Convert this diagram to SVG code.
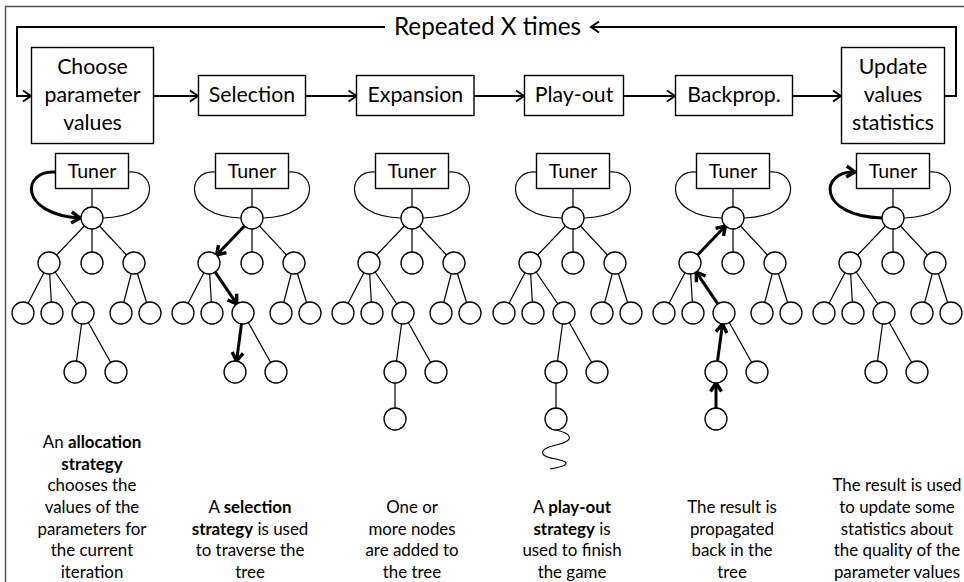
<svg xmlns="http://www.w3.org/2000/svg" width="964" height="582" viewBox="0 0 964 582">
<style>
text{font-family:Lato,"Liberation Sans",sans-serif;fill:#000}
.box{fill:#fff;stroke:#000;stroke-width:1.4}
.node{fill:#fff;stroke:#000;stroke-width:1.3}
.edge{fill:none;stroke:#000;stroke-width:1.2}
.flow{fill:none;stroke:#000;stroke-width:2;marker-end:url(#ah)}
.thick{fill:none;stroke:#000;stroke-width:3;marker-end:url(#ah2)}
.bt{font-size:21.3px;text-anchor:middle}
.tt{font-size:19.5px;text-anchor:middle}
.ds{font-size:16.9px;text-anchor:middle}
</style>
<defs>
<marker id="ah" markerUnits="userSpaceOnUse" markerWidth="14" markerHeight="14" viewBox="0 0 14 14" refX="10" refY="7" orient="auto"><path d="M2,1.5 L10,7 L2,12.5" fill="none" stroke="#000" stroke-width="2"/></marker>
<marker id="ah2" markerUnits="userSpaceOnUse" markerWidth="16" markerHeight="16" viewBox="0 0 16 16" refX="11" refY="8" orient="auto"><path d="M2.5,2.5 L11,8 L2.5,13.5" fill="none" stroke="#000" stroke-width="3.4"/></marker>
</defs>
<rect x="5.5" y="6.5" width="975" height="600" fill="#fff" stroke="#555" stroke-width="1.5"/>

<g id="connectors">
<path class="flow" d="M153 96H198"/>
<path class="flow" d="M305.5 96H356.5"/>
<path class="flow" d="M474 96H524"/>
<path class="flow" d="M623 96H675"/>
<path class="flow" d="M792 96H841"/>
<path class="flow" d="M944 96H956V27H591"/>
<path class="flow" d="M385 27H17V96H31"/>

<g class="edge">
<path d="M92 189V207"/><path d="M129 172C158 170 162 216 103 218"/>
<path d="M252 189V207"/><path d="M215 172C186 170 182 216 241 218"/><path d="M289 172C318 170 322 216 263 218"/>
<path d="M412 189V207"/><path d="M375 172C346 170 342 216 401 218"/><path d="M449 172C478 170 482 216 423 218"/>
<path d="M573 189V207"/><path d="M536 172C507 170 503 216 562 218"/><path d="M610 172C639 170 643 216 584 218"/>
<path d="M733 189V207"/><path d="M696 172C667 170 663 216 722 218"/><path d="M770 172C799 170 803 216 744 218"/>
<path d="M893 189V207"/><path d="M930 172C959 170 963 216 904 218"/>
</g>

<g class="edge">
<path d="M92 218L49 263M92 218L92 263M92 218L134 263M49 263L23 313M49 263L52 313M49 263L83 313M134 263L121 313M134 263L150 313M83 313L75 372M83 313L116 372"/>
<path d="M252 218L252 263M252 218L294 263M209 263L183 313M209 263L212 313M294 263L281 313M294 263L310 313M243 313L276 372"/>
<path d="M412 218L369 263M412 218L412 263M412 218L454 263M369 263L343 313M369 263L372 313M369 263L403 313M454 263L441 313M454 263L470 313M403 313L395 372M403 313L436 372M395 372L395 419"/>
<path d="M573 218L530 263M573 218L573 263M573 218L615 263M530 263L504 313M530 263L533 313M530 263L564 313M615 263L602 313M615 263L631 313M564 313L556 372M564 313L597 372M556 372L556 419"/>
<path d="M733 218L733 263M733 218L775 263M690 263L664 313M690 263L693 313M775 263L762 313M775 263L791 313M724 313L757 372"/>
<path d="M893 218L850 263M893 218L893 263M893 218L935 263M850 263L824 313M850 263L853 313M850 263L884 313M935 263L922 313M935 263L951 313M884 313L876 372M884 313L917 372"/>
<path d="M556 430C574 434 574 441 556 445C538 449 538 456 556 459C572 462 568 466 550 469"/>
</g>

<path class="thick" d="M55 172C22 170 18 214 80 218"/>
<path class="thick" d="M244.4 226L216.6 255"/>
<path class="thick" d="M215.2 272.1L236.8 303.9"/>
<path class="thick" d="M241.5 323.9L236.5 361.1"/>
<path class="thick" d="M716 408L716 383"/>
<path class="thick" d="M717.5 361.1L722.5 323.9"/>
<path class="thick" d="M717.8 303.9L696.2 272.1"/>
<path class="thick" d="M697.6 255L725.4 226"/>
<path class="thick" d="M882 218C816 216 820 170 855 172"/>
</g>

<rect x="388" y="12" width="200" height="30" fill="#fff"/>
<text x="487.5" y="35" font-size="24.3" text-anchor="middle">Repeated X times</text>

<g id="choose"><rect class="box" x="31.5" y="47.5" width="122" height="96"/>
<text class="bt" x="92.5" y="74">Choose</text><text class="bt" x="92.5" y="102">parameter</text><text class="bt" x="92.5" y="130">values</text></g>
<g id="selection"><rect class="box" x="198.5" y="75.5" width="107" height="40"/><text class="bt" x="252" y="102">Selection</text></g>
<g id="expansion"><rect class="box" x="356.5" y="75.5" width="117.5" height="40"/><text class="bt" x="415.3" y="102">Expansion</text></g>
<g id="playout"><rect class="box" x="524.5" y="75.5" width="99" height="40"/><text class="bt" x="574" y="102">Play-out</text></g>
<g id="backprop"><rect class="box" x="675.5" y="75.5" width="117" height="40"/><text class="bt" x="734" y="102">Backprop.</text></g>
<g id="update"><rect class="box" x="841.5" y="47.5" width="103" height="96"/>
<text class="bt" x="893" y="74">Update</text><text class="bt" x="893" y="102">values</text><text class="bt" x="893" y="130">statistics</text></g>

<g id="tuner1"><rect class="box" x="55.5" y="153.5" width="73" height="35"/><text class="tt" x="92" y="178">Tuner</text></g>
<g id="tuner2"><rect class="box" x="215.5" y="153.5" width="73" height="35"/><text class="tt" x="252" y="178">Tuner</text></g>
<g id="tuner3"><rect class="box" x="375.5" y="153.5" width="73" height="35"/><text class="tt" x="412" y="178">Tuner</text></g>
<g id="tuner4"><rect class="box" x="536.5" y="153.5" width="73" height="35"/><text class="tt" x="573" y="178">Tuner</text></g>
<g id="tuner5"><rect class="box" x="696.5" y="153.5" width="73" height="35"/><text class="tt" x="733" y="178">Tuner</text></g>
<g id="tuner6"><rect class="box" x="856.5" y="153.5" width="73" height="35"/><text class="tt" x="893" y="178">Tuner</text></g>

<g id="tree1" class="node"><circle cx="92" cy="218" r="11"/><circle cx="49" cy="263" r="11"/><circle cx="92" cy="263" r="11"/><circle cx="134" cy="263" r="11"/><circle cx="23" cy="313" r="11"/><circle cx="52" cy="313" r="11"/><circle cx="83" cy="313" r="11"/><circle cx="121" cy="313" r="11"/><circle cx="150" cy="313" r="11"/><circle cx="75" cy="372" r="11"/><circle cx="116" cy="372" r="11"/></g>
<g id="tree2" class="node"><circle cx="252" cy="218" r="11"/><circle cx="209" cy="263" r="11"/><circle cx="252" cy="263" r="11"/><circle cx="294" cy="263" r="11"/><circle cx="183" cy="313" r="11"/><circle cx="212" cy="313" r="11"/><circle cx="243" cy="313" r="11"/><circle cx="281" cy="313" r="11"/><circle cx="310" cy="313" r="11"/><circle cx="235" cy="372" r="11"/><circle cx="276" cy="372" r="11"/></g>
<g id="tree3" class="node"><circle cx="412" cy="218" r="11"/><circle cx="369" cy="263" r="11"/><circle cx="412" cy="263" r="11"/><circle cx="454" cy="263" r="11"/><circle cx="343" cy="313" r="11"/><circle cx="372" cy="313" r="11"/><circle cx="403" cy="313" r="11"/><circle cx="441" cy="313" r="11"/><circle cx="470" cy="313" r="11"/><circle cx="395" cy="372" r="11"/><circle cx="436" cy="372" r="11"/><circle cx="395" cy="419" r="11"/></g>
<g id="tree4" class="node"><circle cx="573" cy="218" r="11"/><circle cx="530" cy="263" r="11"/><circle cx="573" cy="263" r="11"/><circle cx="615" cy="263" r="11"/><circle cx="504" cy="313" r="11"/><circle cx="533" cy="313" r="11"/><circle cx="564" cy="313" r="11"/><circle cx="602" cy="313" r="11"/><circle cx="631" cy="313" r="11"/><circle cx="556" cy="372" r="11"/><circle cx="597" cy="372" r="11"/><circle cx="556" cy="419" r="11"/></g>
<g id="tree5" class="node"><circle cx="733" cy="218" r="11"/><circle cx="690" cy="263" r="11"/><circle cx="733" cy="263" r="11"/><circle cx="775" cy="263" r="11"/><circle cx="664" cy="313" r="11"/><circle cx="693" cy="313" r="11"/><circle cx="724" cy="313" r="11"/><circle cx="762" cy="313" r="11"/><circle cx="791" cy="313" r="11"/><circle cx="716" cy="372" r="11"/><circle cx="757" cy="372" r="11"/><circle cx="716" cy="419" r="11"/></g>
<g id="tree6" class="node"><circle cx="893" cy="218" r="11"/><circle cx="850" cy="263" r="11"/><circle cx="893" cy="263" r="11"/><circle cx="935" cy="263" r="11"/><circle cx="824" cy="313" r="11"/><circle cx="853" cy="313" r="11"/><circle cx="884" cy="313" r="11"/><circle cx="922" cy="313" r="11"/><circle cx="951" cy="313" r="11"/><circle cx="876" cy="372" r="11"/><circle cx="917" cy="372" r="11"/></g>

<g id="desc1" class="ds">
<text x="92" y="448">An <tspan font-weight="bold">allocation</tspan></text>
<text x="92" y="470" font-weight="bold">strategy</text>
<text x="92" y="491">chooses the</text>
<text x="92" y="513">values of the</text>
<text x="92" y="535">parameters for</text>
<text x="92" y="556">the current</text>
<text x="92" y="578">iteration</text>
</g>
<g id="desc2" class="ds">
<text x="250" y="513">A <tspan font-weight="bold">selection</tspan></text>
<text x="250" y="535"><tspan font-weight="bold">strategy</tspan> is used</text>
<text x="250" y="556">to traverse the</text>
<text x="250" y="578">tree</text>
</g>
<g id="desc3" class="ds">
<text x="412" y="513">One or</text>
<text x="412" y="535">more nodes</text>
<text x="412" y="556">are added to</text>
<text x="412" y="578">the tree</text>
</g>
<g id="desc4" class="ds">
<text x="572" y="513">A <tspan font-weight="bold">play-out</tspan></text>
<text x="572" y="535"><tspan font-weight="bold">strategy</tspan> is</text>
<text x="572" y="556">used to finish</text>
<text x="572" y="578">the game</text>
</g>
<g id="desc5" class="ds">
<text x="732" y="513">The result is</text>
<text x="732" y="535">propagated</text>
<text x="732" y="556">back in the</text>
<text x="732" y="578">tree</text>
</g>
<g id="desc6" class="ds">
<text x="897" y="491">The result is used</text>
<text x="897" y="513">to update some</text>
<text x="897" y="535">statistics about</text>
<text x="897" y="556">the quality of the</text>
<text x="897" y="578">parameter values</text>
</g>
</svg>
